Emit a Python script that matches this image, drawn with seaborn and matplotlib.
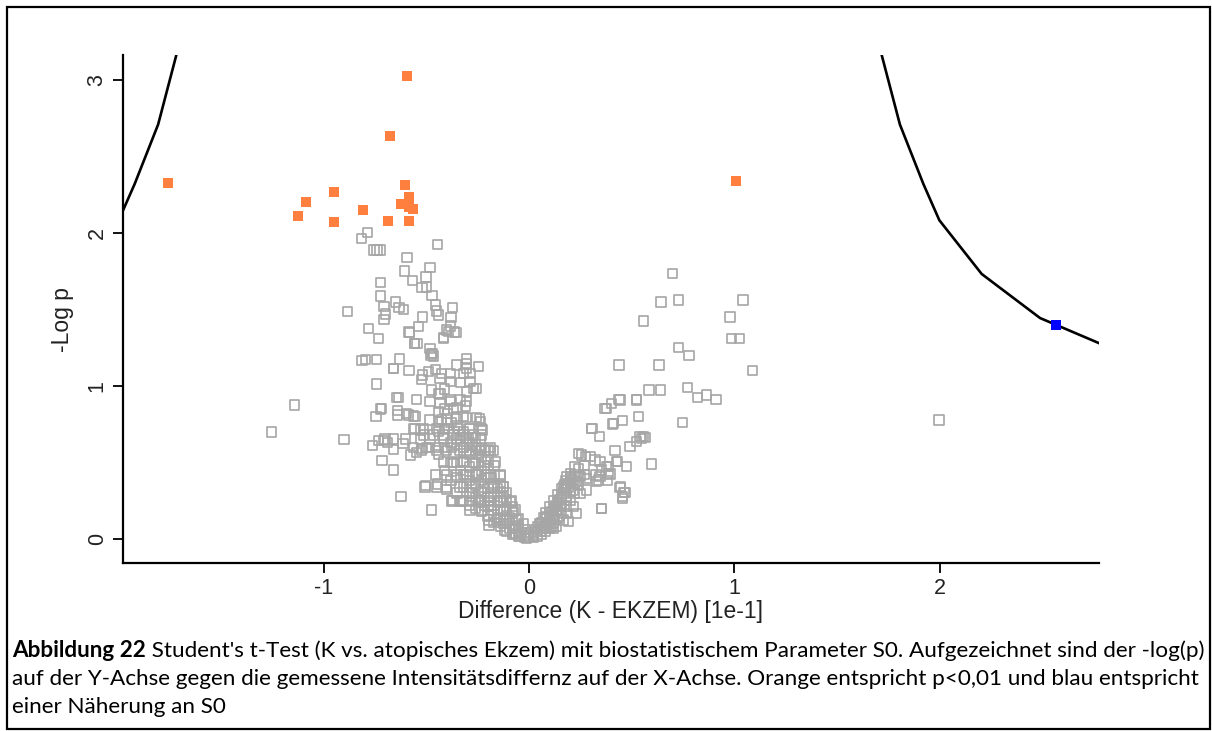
import matplotlib
matplotlib.use("Agg")
import matplotlib.pyplot as plt
import seaborn as sns
import pandas as pd
from matplotlib.patches import Rectangle

# ---- data: difference (K - EKZEM) [1e-1] and -log10(p) ----
# non-significant proteins, upper-left scatter
grey_upper = [
    (-0.787, 2.004), (-0.816, 1.965), (-0.754, 1.889), (-0.740, 1.889), (-0.725, 1.889),
    (-0.444, 1.926), (-0.594, 1.839), (-0.482, 1.776), (-0.605, 1.752), (-0.566, 1.688),
    (-0.501, 1.712), (-0.724, 1.675), (-0.521, 1.643), (-0.498, 1.647), (-0.724, 1.588),
    (-0.472, 1.590), (-0.882, 1.488), (-0.649, 1.549), (-0.706, 1.518), (-0.633, 1.512),
    (-0.612, 1.501), (-0.699, 1.471), (-0.706, 1.436), (-0.456, 1.529), (-0.371, 1.514),
    (-0.449, 1.490), (-0.439, 1.464), (-0.519, 1.451), (-0.380, 1.449), (-0.539, 1.390),
    (-0.780, 1.377), (-0.584, 1.353), (-0.383, 1.392), (-0.401, 1.366), (-0.362, 1.353),
    (-0.733, 1.312), (-0.417, 1.312), (-0.556, 1.277), (-0.545, 1.277), (-0.482, 1.246),
    (-0.477, 1.203), (-0.469, 1.213), (-0.813, 1.168), (-0.797, 1.175), (-0.743, 1.175),
    (-0.631, 1.176), (-0.658, 1.113), (-0.584, 1.100), (-0.743, 1.013), (-0.582, 1.349),
    (-0.417, 1.318), (-0.393, 1.355), (-0.355, 1.349), (-0.558, 1.275), (-0.474, 1.214),
    (-0.466, 1.196), (-0.660, 1.116), (-0.517, 1.072), (-0.522, 1.044), (-0.490, 1.094),
    (-0.457, 1.109), (-0.425, 1.083), (-0.384, 1.083), (-0.352, 1.137), (-0.303, 1.181),
    (-0.303, 1.148), (-0.303, 1.115), (-0.247, 1.126), (-0.320, 1.083), (-0.287, 1.083),
    (-0.332, 1.022), (-0.381, 1.028), (-0.287, 1.028), (-0.255, 0.985), (-0.271, 0.985),
    (-0.303, 0.963), (-0.433, 1.050), (-0.474, 0.974), (-0.433, 0.952),
]

# non-significant proteins, left arm of the volcano
grey_left = [
    (-0.644, 0.924), (-0.636, 0.924), (-0.547, 0.913), (-0.482, 0.897), (-0.433, 0.887),
    (-0.384, 0.908), (-0.336, 0.908), (-0.303, 0.897), (-0.368, 0.854), (-0.311, 0.869),
    (-0.717, 0.854), (-0.641, 0.839), (-0.641, 0.810), (-0.595, 0.821), (-0.563, 0.804),
    (-0.587, 0.810), (-0.555, 0.799), (-0.745, 0.799), (-0.722, 0.850), (-1.142, 0.876),
    (-1.254, 0.699), (-0.900, 0.649), (-0.482, 0.778), (-0.441, 0.767), (-0.400, 0.778),
    (-0.352, 0.789), (-0.303, 0.795), (-0.255, 0.795), (-0.238, 0.767), (-0.242, 0.789),
    (-0.555, 0.720), (-0.514, 0.720), (-0.449, 0.720), (-0.393, 0.720), (-0.344, 0.720),
    (-0.287, 0.720), (-0.230, 0.720), (-0.225, 0.712), (-0.560, 0.719), (-0.530, 0.712),
    (-0.701, 0.654), (-0.660, 0.654), (-0.603, 0.654), (-0.530, 0.654), (-0.482, 0.654),
    (-0.417, 0.654), (-0.352, 0.654), (-0.295, 0.654), (-0.238, 0.654), (-0.731, 0.643),
    (-0.709, 0.643), (-0.690, 0.629), (-0.660, 0.586), (-0.613, 0.625), (-0.761, 0.610),
    (-0.715, 0.514), (-0.660, 0.451), (-0.576, 0.549), (-0.547, 0.567), (-0.521, 0.593),
    (-0.490, 0.597), (-0.563, 0.599), (-0.498, 0.599), (-0.441, 0.599), (-0.376, 0.599),
    (-0.320, 0.599), (-0.255, 0.599), (-0.190, 0.599), (-0.514, 0.680), (-0.466, 0.680),
    (-0.417, 0.680), (-0.368, 0.680), (-0.320, 0.680), (-0.271, 0.680), (-0.230, 0.680),
    (-0.522, 0.580), (-0.449, 0.580), (-0.400, 0.580), (-0.336, 0.580), (-0.287, 0.580),
    (-0.238, 0.580), (-0.190, 0.580), (-0.198, 0.582), (-0.174, 0.577), (-0.214, 0.577),
    (-0.417, 0.503), (-0.368, 0.503), (-0.320, 0.503), (-0.271, 0.503), (-0.214, 0.503),
    (-0.165, 0.503), (-0.457, 0.418), (-0.400, 0.418), (-0.352, 0.418), (-0.303, 0.418),
    (-0.255, 0.418), (-0.206, 0.418), (-0.141, 0.418), (-0.141, 0.412), (-0.506, 0.340),
    (-0.449, 0.340), (-0.400, 0.340), (-0.336, 0.340), (-0.279, 0.340), (-0.222, 0.340),
    (-0.174, 0.340), (-0.125, 0.340), (-0.503, 0.348), (-0.446, 0.359), (-0.400, 0.325),
    (-0.125, 0.342), (-0.376, 0.248), (-0.328, 0.248), (-0.287, 0.248), (-0.238, 0.248),
    (-0.190, 0.248), (-0.141, 0.248), (-0.084, 0.248), (-0.370, 0.250), (-0.336, 0.244),
    (-0.092, 0.244), (-0.623, 0.277), (-0.474, 0.190), (-0.287, 0.190), (-0.230, 0.190),
    (-0.182, 0.190), (-0.125, 0.190), (-0.068, 0.190), (-0.076, 0.178), (-0.195, 0.124),
    (-0.195, 0.092), (-0.157, 0.124), (-0.109, 0.124), (-0.060, 0.124), (-0.028, 0.103),
    (-0.117, 0.059), (-0.076, 0.037), (-0.044, 0.015), (-0.011, 0.005), (0.021, 0.015),
    (0.054, 0.048), (0.086, 0.080),
    # densely packed core of the left arm
    (-0.02, 0.01), (-0.02, 0.03), (-0.02, 0.06),
    (-0.05, 0.02), (-0.05, 0.05), (-0.05, 0.09), (-0.05, 0.13),
    (-0.08, 0.03), (-0.08, 0.07), (-0.08, 0.12), (-0.08, 0.17), (-0.08, 0.21),
    (-0.11, 0.05), (-0.11, 0.10), (-0.11, 0.15), (-0.11, 0.20), (-0.11, 0.26), (-0.11, 0.30),
    (-0.14, 0.08), (-0.14, 0.13), (-0.14, 0.19), (-0.14, 0.25), (-0.14, 0.31), (-0.14, 0.36),
    (-0.17, 0.11), (-0.17, 0.16), (-0.17, 0.22), (-0.17, 0.28), (-0.17, 0.35), (-0.17, 0.42),
    (-0.17, 0.48), (-0.20, 0.15), (-0.20, 0.21), (-0.20, 0.27), (-0.20, 0.33), (-0.20, 0.40),
    (-0.20, 0.46), (-0.20, 0.52), (-0.23, 0.18), (-0.23, 0.24), (-0.23, 0.31), (-0.23, 0.38),
    (-0.23, 0.45), (-0.23, 0.53), (-0.23, 0.60), (-0.26, 0.20), (-0.26, 0.27), (-0.26, 0.35),
    (-0.26, 0.43), (-0.26, 0.50), (-0.26, 0.58), (-0.26, 0.66), (-0.29, 0.22), (-0.29, 0.30),
    (-0.29, 0.38), (-0.29, 0.47), (-0.29, 0.55), (-0.29, 0.63), (-0.29, 0.72), (-0.32, 0.25),
    (-0.32, 0.34), (-0.32, 0.42), (-0.32, 0.51), (-0.32, 0.60), (-0.32, 0.70), (-0.32, 0.80),
    (-0.35, 0.30), (-0.35, 0.40), (-0.35, 0.50), (-0.35, 0.62), (-0.35, 0.74), (-0.35, 0.86),
    (-0.38, 0.38), (-0.38, 0.50), (-0.38, 0.63), (-0.38, 0.76), (-0.38, 0.90),
    (-0.41, 0.45), (-0.41, 0.60), (-0.41, 0.72), (-0.41, 0.85), (-0.41, 0.98),
    (-0.44, 0.55), (-0.44, 0.70), (-0.44, 0.83), (-0.44, 0.95),
    (-0.035, 0.04), (-0.065, 0.08), (-0.095, 0.14), (-0.125, 0.18), (-0.155, 0.24),
    (-0.185, 0.30), (-0.215, 0.36), (-0.245, 0.42), (-0.275, 0.50), (-0.305, 0.56),
    (-0.335, 0.66), (-0.365, 0.70), (-0.395, 0.82), (-0.425, 0.78),
    (-0.125, 0.10), (-0.125, 0.27), (-0.155, 0.14), (-0.155, 0.33), (-0.185, 0.19),
    (-0.185, 0.40), (-0.215, 0.22), (-0.215, 0.48), (-0.245, 0.26), (-0.245, 0.55),
    (-0.275, 0.30), (-0.275, 0.62), (-0.305, 0.36), (-0.305, 0.66), (-0.335, 0.45),
    (-0.365, 0.55), (-0.095, 0.07), (-0.065, 0.03), (-0.005, 0.02), (0.010, 0.04),
]

# non-significant proteins, right arm of the volcano
grey_right = [
    (0.118, 0.146), (0.151, 0.211), (0.183, 0.276), (0.167, 0.342), (0.183, 0.407),
    (0.102, 0.103), (0.070, 0.070), (0.135, 0.080), (0.183, 0.168), (0.191, 0.113),
    (0.240, 0.560), (0.256, 0.549), (0.297, 0.538), (0.321, 0.516), (0.345, 0.505),
    (0.378, 0.473), (0.386, 0.429), (0.345, 0.407), (0.329, 0.375), (0.281, 0.397),
    (0.248, 0.407), (0.200, 0.397), (0.175, 0.353), (0.216, 0.320), (0.248, 0.299),
    (0.183, 0.255), (0.216, 0.211), (0.135, 0.190), (0.086, 0.146), (0.054, 0.103),
    (0.118, 0.070), (0.167, 0.124), (0.232, 0.168), (0.378, 0.854), (0.402, 0.887),
    (0.443, 0.908), (0.524, 0.908), (0.305, 0.724), (0.342, 0.669), (0.407, 0.752),
    (0.456, 0.773), (0.532, 0.799), (0.273, 0.538), (0.418, 0.577), (0.491, 0.603),
    (0.524, 0.636), (0.548, 0.658), (0.564, 0.665), (0.430, 0.505), (0.475, 0.473),
    (0.597, 0.490), (0.386, 0.473), (0.394, 0.425), (0.381, 0.381), (0.337, 0.386),
    (0.326, 0.418), (0.354, 0.451), (0.443, 0.338), (0.467, 0.303), (0.456, 0.266),
    (0.352, 0.201), (0.200, 0.407), (0.183, 0.364), (0.232, 0.375), (0.281, 0.320),
    (0.697, 1.736), (0.642, 1.549), (0.727, 1.562), (0.556, 1.425), (1.041, 1.562),
    (0.978, 1.451), (0.985, 1.312), (1.023, 1.312), (1.089, 1.100), (0.727, 1.250),
    (0.779, 1.201), (0.438, 1.137), (0.633, 1.137), (0.584, 0.974), (0.641, 0.974),
    (0.770, 0.989), (0.819, 0.926), (0.865, 0.941), (0.910, 0.913), (0.438, 0.913),
    (0.370, 0.852), (0.522, 0.913), (0.410, 0.756), (0.746, 0.763), (0.540, 0.669),
    (0.556, 0.669), (1.995, 0.778), (0.354, 0.200), (0.446, 0.342), (0.462, 0.303),
    (0.456, 0.276), (0.427, 0.505), (0.307, 0.723),
    # densely packed core of the right arm
    (0.02, 0.01), (0.02, 0.03), (0.04, 0.02), (0.04, 0.05), (0.04, 0.08),
    (0.06, 0.03), (0.06, 0.07), (0.06, 0.11), (0.08, 0.05), (0.08, 0.09), (0.08, 0.13),
    (0.08, 0.17), (0.10, 0.07), (0.10, 0.12), (0.10, 0.17), (0.10, 0.21), (0.12, 0.10),
    (0.12, 0.15), (0.12, 0.20), (0.12, 0.25), (0.14, 0.13), (0.14, 0.18), (0.14, 0.24),
    (0.14, 0.29), (0.16, 0.17), (0.16, 0.22), (0.16, 0.28), (0.16, 0.33), (0.18, 0.21),
    (0.18, 0.27), (0.18, 0.33), (0.18, 0.38), (0.20, 0.25), (0.20, 0.31), (0.20, 0.37),
    (0.20, 0.43), (0.22, 0.30), (0.22, 0.36), (0.22, 0.42), (0.22, 0.47), (0.24, 0.35),
    (0.24, 0.41), (0.24, 0.46), (0.27, 0.42), (0.27, 0.48),
    (0.03, 0.06), (0.05, 0.10), (0.07, 0.14), (0.09, 0.11), (0.11, 0.18), (0.13, 0.22),
    (0.15, 0.26), (0.17, 0.30), (0.19, 0.34), (0.21, 0.39), (0.11, 0.08), (0.15, 0.15),
]

# significant proteins (p < 0.01)
sig_diff = [-0.594, -0.676, -0.602, -0.584, -0.623, -0.566, -0.582, -0.582, -0.686,
            -1.755, -1.085, -1.123, -0.947, -0.947, -0.806, 1.007]
sig_logp = [3.028, 2.636, 2.312, 2.237, 2.190, 2.155, 2.172, 2.080, 2.077,
            2.325, 2.201, 2.113, 2.266, 2.074, 2.150, 2.340]

# protein closest to the S0 threshold
s0_diff = [2.564]
s0_logp = [1.399]

# S0 significance curve (right branch; left branch is its mirror image)
curve_diff = [1.700, 1.716, 1.805, 1.919, 1.997, 2.203, 2.487, 2.800]
curve_logp = [3.250, 3.165, 2.709, 2.321, 2.083, 1.732, 1.444, 1.265]

x_ticks = [-1, 0, 1, 2]
y_ticks = [0, 1, 2, 3]
x_label = "Difference (K - EKZEM) [1e-1]"
y_label = "-Log p"

caption_bold = "Abbildung 22"
caption_lines = [
    " Student's t-Test (K vs. atopisches Ekzem) mit biostatistischem Parameter S0. "
    "Aufgezeichnet sind der -log(p)",
    "auf der Y-Achse gegen die gemessene Intensitätsdiffernz auf der X-Achse. "
    "Orange entspricht p<0,01 und blau entspricht",
    "einer Näherung an S0",
]

GREY = "#a6a6a6"
ORANGE = "#ff7f3f"
BLUE = "#0000ff"

sns.set_theme(style="ticks")
plt.rcParams["font.family"] = ["Liberation Sans", "DejaVu Sans"]

W, H = 1212, 731
fig = plt.figure(figsize=(W / 100, H / 100), dpi=100)
fig.patch.set_facecolor("white")
ax = fig.add_axes([123 / W, 1 - 563 / H, (1099 - 123) / W, (563 - 55) / H])
ax.set_facecolor("white")

grey = pd.DataFrame(grey_upper + grey_left + grey_right, columns=["diff", "logp"])
sns.scatterplot(data=grey, x="diff", y="logp", marker="s", s=44, ax=ax,
                linewidth=1.2, zorder=2)
pts = ax.collections[-1]
pts.set_facecolor("none")
pts.set_edgecolor(GREY)

sig = pd.DataFrame({"diff": sig_diff, "logp": sig_logp})
sns.scatterplot(data=sig, x="diff", y="logp", marker="s", s=52, color=ORANGE,
                linewidth=0, ax=ax, zorder=3)

near = pd.DataFrame({"diff": s0_diff, "logp": s0_logp})
sns.scatterplot(data=near, x="diff", y="logp", marker="s", s=44, color=BLUE,
                linewidth=0, ax=ax, zorder=5)

right_branch = pd.DataFrame({"diff": curve_diff, "logp": curve_logp})
left_branch = pd.DataFrame({"diff": [-d for d in curve_diff], "logp": curve_logp})
for branch in (left_branch, right_branch):
    sns.lineplot(data=branch, x="diff", y="logp", sort=False, estimator=None,
                 color="black", linewidth=1.9, ax=ax, zorder=4)

ax.set_xlim(-1.976, 2.774)
ax.set_ylim(-0.157, 3.163)
ax.set_xticks(x_ticks)
ax.set_yticks(y_ticks)
ax.set_xticklabels([str(t) for t in x_ticks])
ax.set_yticklabels([str(t) for t in y_ticks], rotation=90, va="center")
sns.despine(ax=ax)
for side in ("left", "bottom"):
    ax.spines[side].set_linewidth(1.6)
    ax.spines[side].set_color("black")
ax.tick_params(axis="both", direction="out", length=7, width=1.3, color="black",
               labelsize=15.5, labelcolor="#222222", pad=4)
ax.set_xlabel(x_label, fontsize=16.5, color="#222222")
ax.set_ylabel(y_label, fontsize=16.5, color="#222222")
ax.xaxis.set_label_coords(0.499, -0.072)
ax.yaxis.set_label_coords(-0.0615, 0.48)
ax.yaxis.label.set_va("center")

# caption below the chart
cap_font = ["Lato", "DejaVu Sans"]
cap_size = 16.2
baselines = [657, 685, 713]
bold = fig.text(12 / W, 1 - baselines[0] / H, caption_bold, fontsize=cap_size,
                fontweight="bold", family=cap_font, va="baseline", ha="left",
                color="black")
fig.canvas.draw()
ax.annotate(caption_lines[0], xy=(1, 1 - baselines[0] / H),
            xycoords=(bold, "figure fraction"), fontsize=cap_size, family=cap_font,
            va="baseline", ha="left", color="black", annotation_clip=False)
for line, yb in zip(caption_lines[1:], baselines[1:]):
    fig.text(12 / W, 1 - yb / H, line, fontsize=cap_size, family=cap_font,
             va="baseline", ha="left", color="black")

# frame around the whole figure
fig.patches.append(Rectangle((7 / W, 1 - 729 / H), (1210 - 7) / W, (729 - 7) / H,
                             transform=fig.transFigure, fill=False,
                             edgecolor="black", linewidth=1.6))

fig.savefig("out.png", dpi=100)
